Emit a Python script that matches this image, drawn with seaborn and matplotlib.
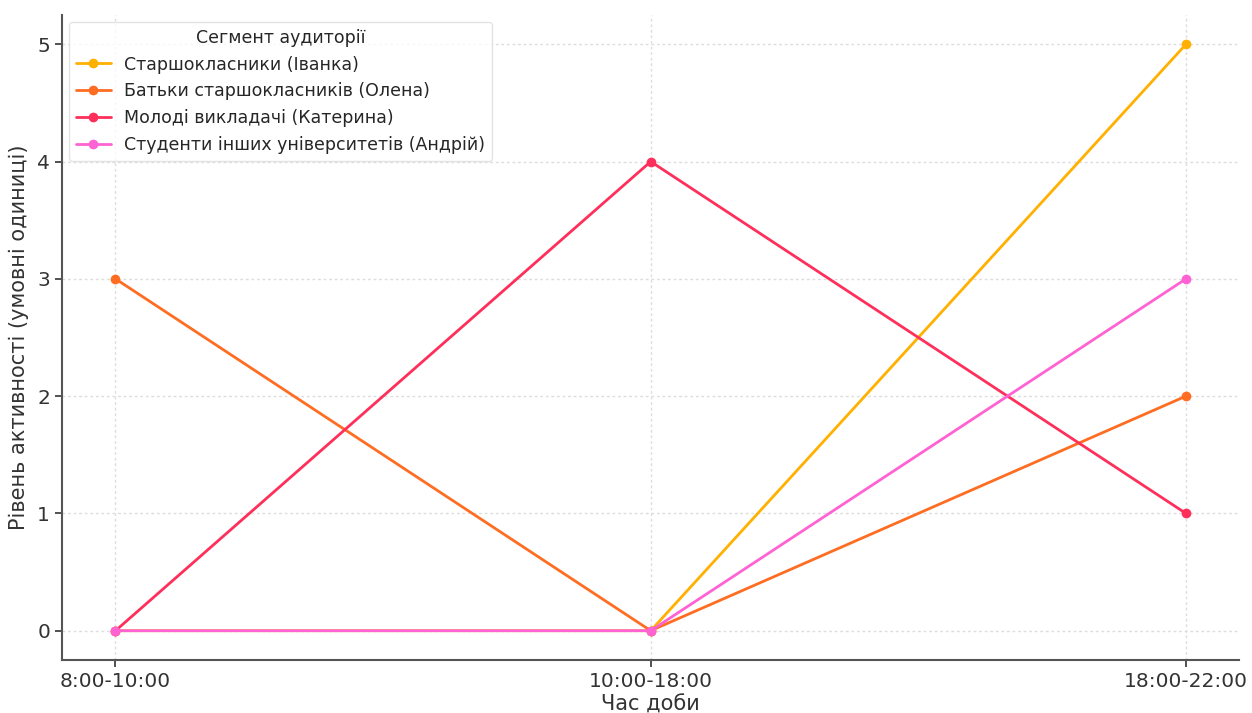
import pandas as pd
import matplotlib
matplotlib.use('Agg')
import matplotlib.pyplot as plt
import seaborn as sns

times = ['8:00-10:00', '10:00-18:00', '18:00-22:00']
segments = ['Старшокласники (Іванка)', 'Батьки старшокласників (Олена)',
            'Молоді викладачі (Катерина)', 'Студенти інших університетів (Андрій)']
ivanka = [0, 0, 5]
olena = [3, 0, 2]
kateryna = [0, 4, 1]
andrii = [0, 0, 3]
colors = ['#FFB000', '#FE6D22', '#FE2F5A', '#FF62D3']

rows = []
for seg, vals in zip(segments, [ivanka, olena, kateryna, andrii]):
    for t, v in zip(times, vals):
        rows.append({'Час доби': t, 'Активність': v, 'Сегмент аудиторії': seg})
df = pd.DataFrame(rows)

sns.set_style('ticks')
plt.rcParams['font.family'] = ['DejaVu Sans']

fig = plt.figure(figsize=(12.52, 7.13), dpi=100)
ax = fig.add_axes([0.0495, 0.0743, 0.9405, 0.9047])

sns.lineplot(data=df, x='Час доби', y='Активність', hue='Сегмент аудиторії',
             palette=colors, marker='o', markersize=7, markeredgewidth=0,
             linewidth=2, ax=ax)

ax.grid(True, linestyle=(0, (2, 2)), color='#dddddd', linewidth=1)
ax.set_xlim(-0.1, 2.1)
ax.set_ylim(-0.25, 5.25)
ax.set_yticks([0, 1, 2, 3, 4, 5])
ax.set_xlabel('Час доби', fontsize=15, color='#333333', labelpad=3)
ax.set_ylabel('Рівень активності (умовні одиниці)', fontsize=15, color='#333333', labelpad=6)
ax.tick_params(labelsize=14.5, colors='#333333', length=5, width=1.2)
for s in ['top', 'right']:
    ax.spines[s].set_visible(False)
for s in ['left', 'bottom']:
    ax.spines[s].set_color('#555555')
    ax.spines[s].set_linewidth(1.5)

leg = ax.legend(title='Сегмент аудиторії', loc='upper left', fontsize=12.5,
                title_fontsize=12.5, frameon=True, borderaxespad=0.4)
leg.get_frame().set_edgecolor('#dddddd')

fig.savefig('out.png', dpi=100)
